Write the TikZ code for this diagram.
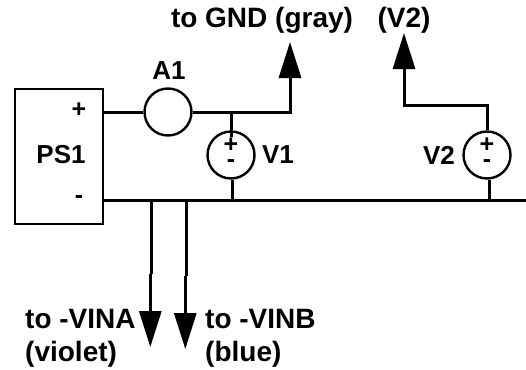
\documentclass[tikz,border=0pt]{standalone}
\usepackage{fontspec}
\setmainfont{Liberation Sans}
\usetikzlibrary{arrows.meta}
\definecolor{wire}{rgb}{0,0,0}

\begin{document}
\begin{tikzpicture}[
	x=1pt,y=-1pt,
	wireline/.style={line width=3pt,draw=wire,line cap=butt},
	arrowline/.style={wireline,-{Triangle[length=36pt,width=22pt]}},
	meter/.style={circle,draw,line width=2.4pt,minimum size=47pt,inner sep=0pt},
	lbl/.style={inner sep=0pt,font=\fontsize{26pt}{33pt}\selectfont\bfseries},
	note/.style={inner sep=0pt,font=\fontsize{28pt}{33pt}\selectfont\bfseries},
	sign/.style={inner sep=0pt,font=\fontsize{25pt}{25pt}\selectfont\bfseries}]
  \useasboundingbox (0,0) rectangle (526,369);
  \node[draw,line width=2pt,minimum width=88pt,minimum height=135pt,inner sep=0pt] (ps1) at (59,156.5) {};
  \node[lbl] (ps1lbl) at (61,155) {PS1};
  \node[sign] (ps1p) at (79,110) {+};
  \node[sign] (ps1m) at (79,200) {-};
  \node[meter] (a1) at (168,112) {};
  \node[lbl] (a1lbl) at (169,71) {A1};
  \node[meter] (v1) at (231,155) {};
  \node[sign] (v1p) at (231,145) {+};
  \node[sign] (v1m) at (231,164) {-};
  \node[lbl] (v1lbl) at (278,155) {V1};
  \node[meter] (v2) at (487,155) {};
  \node[sign] (v2p) at (487,145) {+};
  \node[sign] (v2m) at (487,164) {-};
  \node[lbl] (v2lbl) at (439,155) {V2};
  \node[note] (gndlbl) at (262,20) {to GND (gray)};
  \node[note] (v2out) at (404,20) {(V2)};
  \node[note,anchor=west,align=left] (vinalbl) at (25,338) {to -VINA\\(violet)};
  \node[note,anchor=west,align=left] (vinblbl) at (205,338) {to -VINB\\(blue)};
  \coordinate (ptop) at (ps1.east |- 0,112);
  \coordinate (pbot) at (ps1.east |- 0,200);
  \coordinate (rail) at (526,200);
  \coordinate (tee1) at (231,112);
  \coordinate (tee2) at (232,200);
  \coordinate (tee3) at (489,202);
  \coordinate (gndbend) at (290,112);
  \coordinate (gndtip) at (290,42);
  \coordinate (v2bend) at (404,105);
  \coordinate (v2top) at (487,105);
  \coordinate (v2tip) at (404,33);
  \coordinate (vinaa) at (151,200);
  \coordinate (vinab) at (151,274);
  \coordinate (vinac) at (150.3,274);
  \coordinate (vinatip) at (150.3,347);
  \coordinate (vinba) at (186,200);
  \coordinate (vinbb) at (186,276);
  \coordinate (vinbc) at (185.3,276);
  \coordinate (vinbtip) at (185.3,349);
  \draw[wireline] (ptop) -- (a1);
  \draw[arrowline] (a1) -- (gndbend) -- (gndtip);
  \draw[wireline] (tee1) -- (v1p.north);
  \draw[wireline] (pbot) -- (rail);
  \draw[wireline] (tee2) -- (tee2 |- v1.south);
  \draw[wireline] (tee3) -- (tee3 |- v2.south);
  \draw[arrowline] (v2) -- (v2top) -- (v2bend) -- (v2tip);
  \draw[wireline] (vinaa) -- (vinab);
  \draw[arrowline] (vinac) -- (vinatip);
  \draw[wireline] (vinba) -- (vinbb);
  \draw[arrowline] (vinbc) -- (vinbtip);
\end{tikzpicture}
\end{document}
